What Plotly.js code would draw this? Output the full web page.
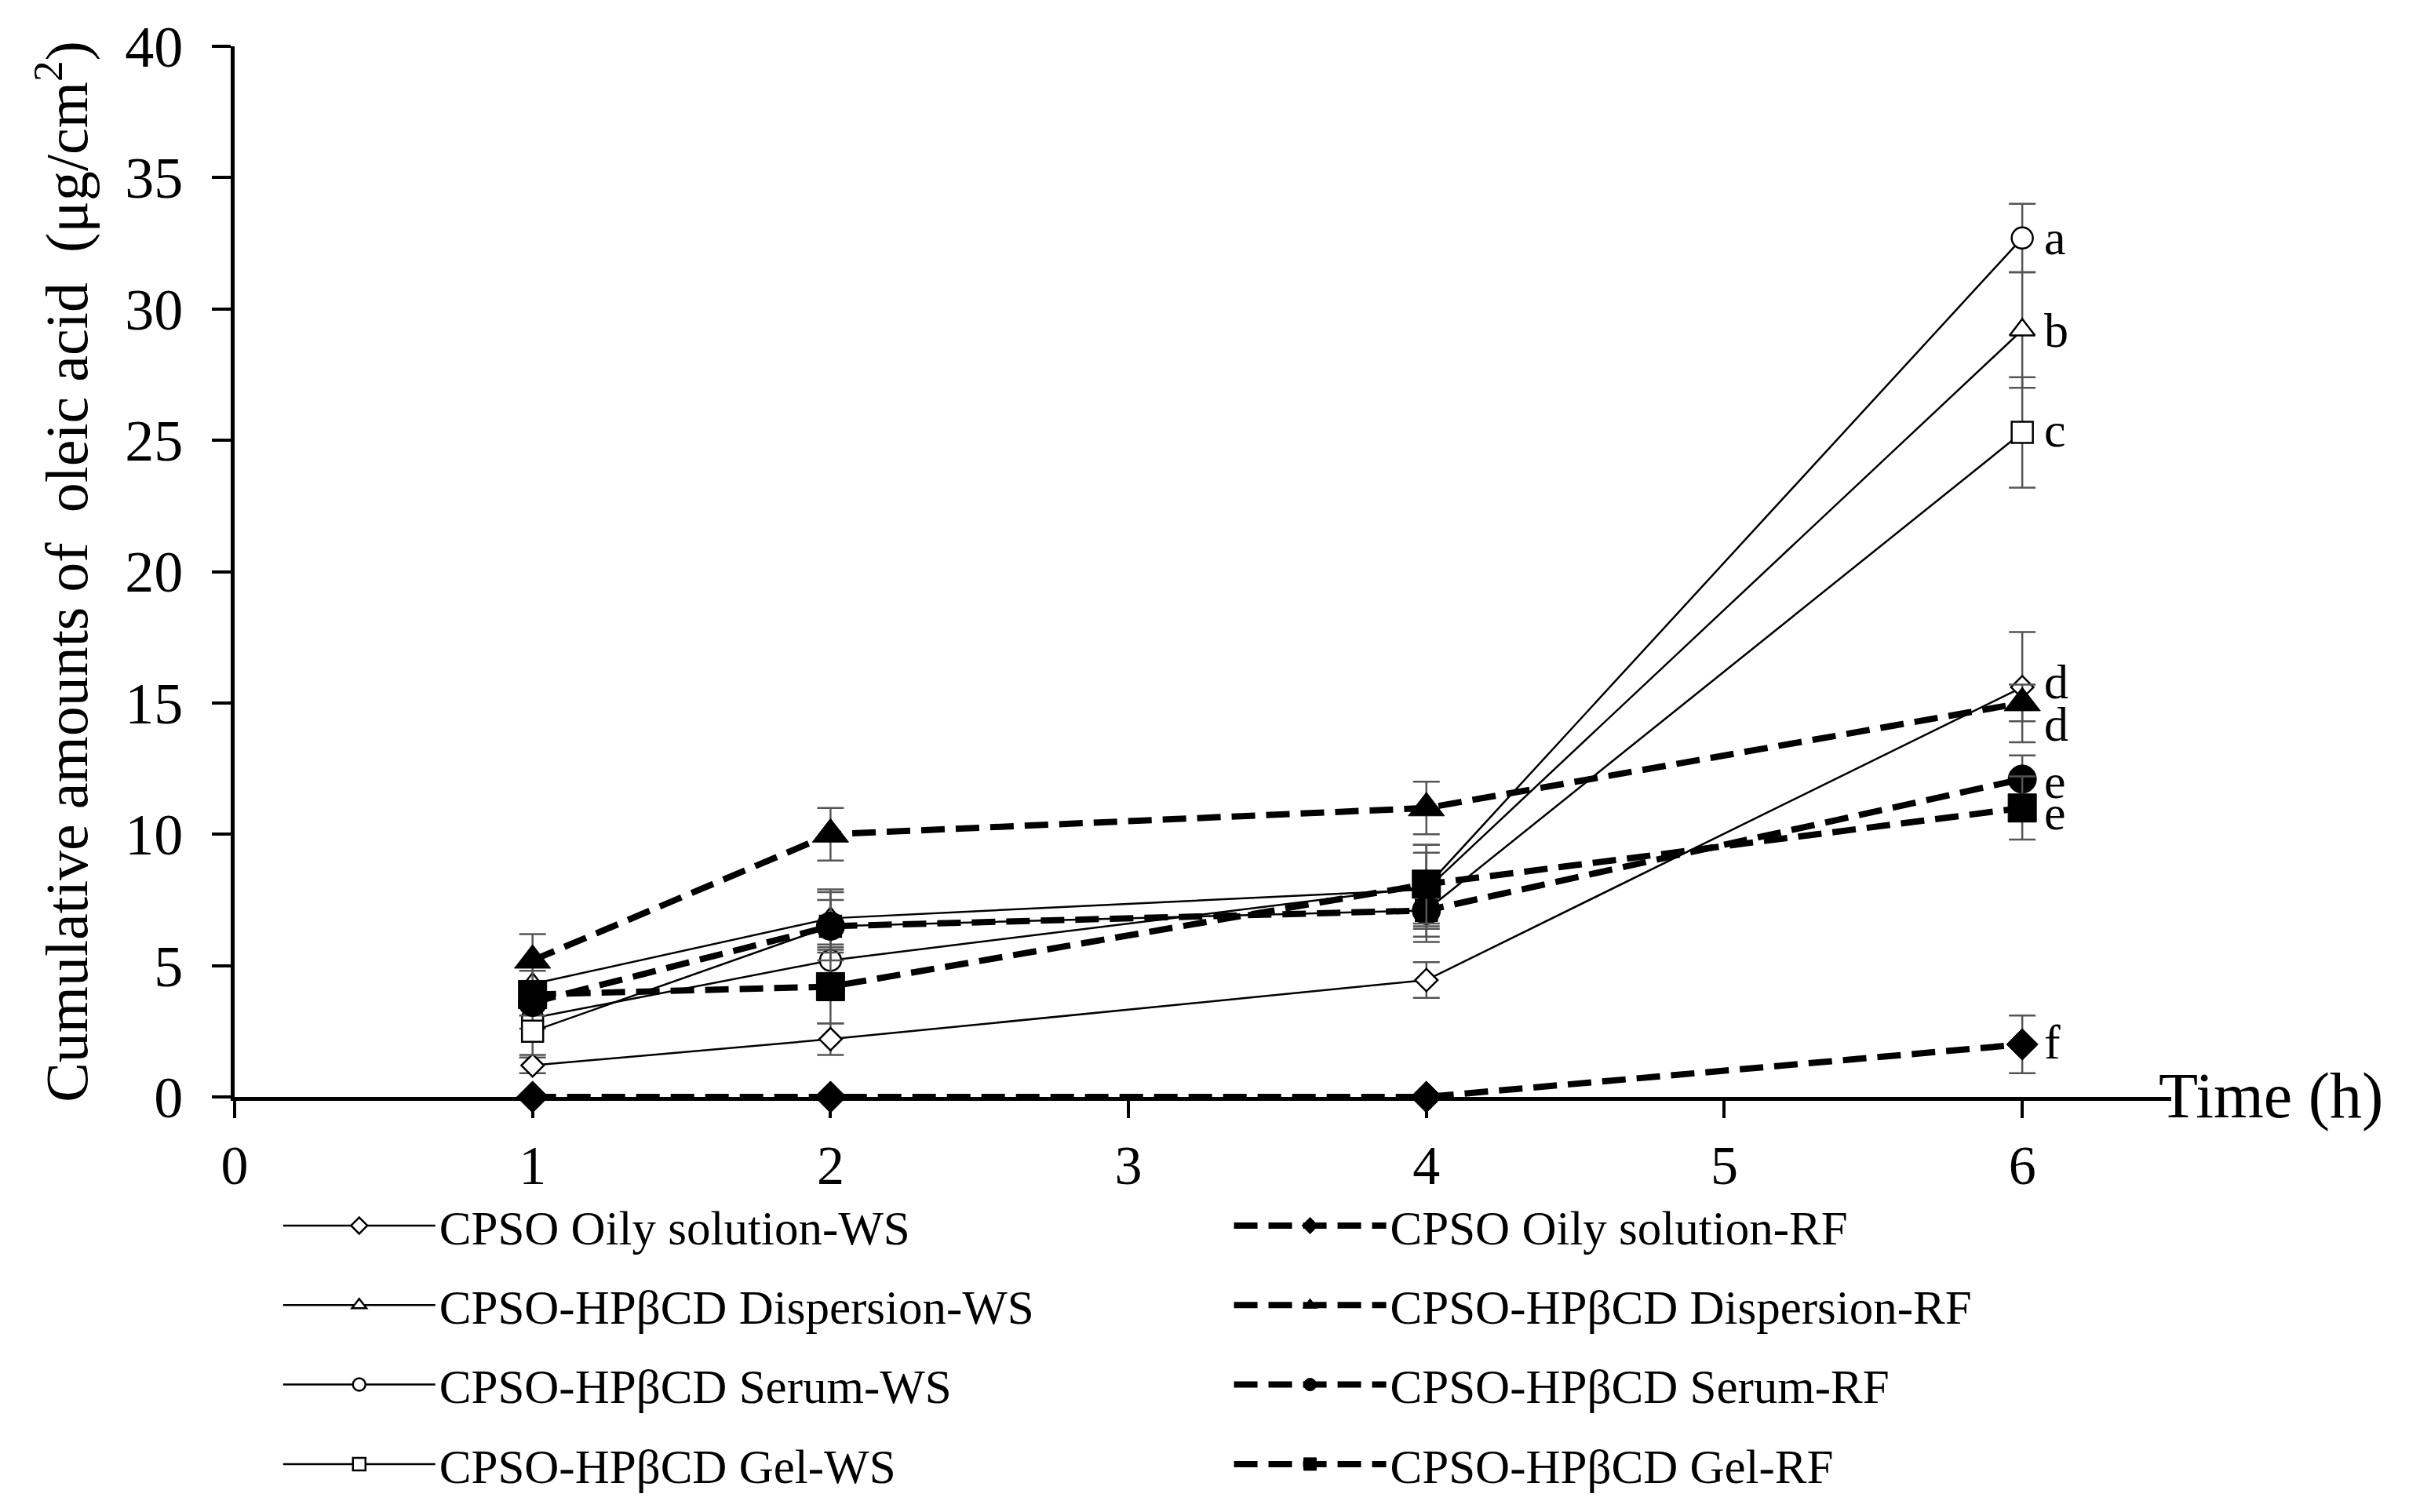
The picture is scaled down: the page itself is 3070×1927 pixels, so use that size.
<!DOCTYPE html>
<html>
<head>
<meta charset="utf-8">
<script src="https://cdn.plot.ly/plotly-3.0.1.min.js"></script>
<style>
  html, body { margin: 0; padding: 0; background: #fff; }
  #chart { width: 3070px; height: 1927px; }
</style>
</head>
<body>
<div id="chart"></div>
<script>
// Sampling times (h)
const TIMES = [1, 2, 4, 6];

// Series names
const NAMES_WS = [
  'CPSO Oily solution-WS',
  'CPSO-HPβCD Dispersion-WS',
  'CPSO-HPβCD Serum-WS',
  'CPSO-HPβCD Gel-WS',
];
const NAMES_RF = [
  'CPSO Oily solution-RF',
  'CPSO-HPβCD Dispersion-RF',
  'CPSO-HPβCD Serum-RF',
  'CPSO-HPβCD Gel-RF',
];

// Cumulative amounts of oleic acid (µg/cm2)
const OILY_WS = [1.2, 2.2, 4.45, 15.6];
const DISP_WS = [4.3, 6.8, 7.9, 29.2];
const SERUM_WS = [3.0, 5.2, 8.0, 32.7];
const GEL_WS = [2.5, 6.5, 7.1, 25.3];

const OILY_RF = [0, 0, 0, 2.0];
const DISP_RF = [5.2, 10.0, 11.0, 15.0];
const SERUM_RF = [3.6, 6.5, 7.1, 12.1];
const GEL_RF = [3.9, 4.2, 8.1, 11.0];

// Standard deviations
const OILY_WS_SD = [0.3, 0.6, 0.68, 2.1];
const DISP_WS_SD = [0.5, 1.1, 1.4, 2.2];
const SERUM_WS_SD = [0.4, 0.6, 1.6, 1.3];
const GEL_WS_SD = [0.9, 1.0, 1.2, 2.1];

const OILY_RF_SD = [0, 0, 0, 1.1];
const DISP_RF_SD = [1.0, 1.0, 1.0, 0.7];
const SERUM_RF_SD = [0.5, 1.3, 1.0, 0.9];
const GEL_RF_SD = [0.4, 1.4, 1.5, 1.2];

// Significance letters at 6 h
const SIG_LETTERS = ['a', 'b', 'c', 'd', 'd', 'e', 'e', 'f'];
const SIG_Y = [32.7, 29.2, 25.4, 15.8, 14.2, 12.0, 10.8, 2.1];

const FONT = 'Liberation Serif, Times New Roman, serif';

const WS_VALUES = [OILY_WS, DISP_WS, SERUM_WS, GEL_WS];
const WS_SD = [OILY_WS_SD, DISP_WS_SD, SERUM_WS_SD, GEL_WS_SD];
const RF_VALUES = [OILY_RF, DISP_RF, SERUM_RF, GEL_RF];
const RF_SD = [OILY_RF_SD, DISP_RF_SD, SERUM_RF_SD, GEL_RF_SD];

const SYMBOLS = ['diamond', 'triangle-up', 'circle', 'square'];
const OPEN_SIZES = [22, 28, 27, 27];
const FILLED_SIZES = [31, 40, 36, 36];

const errorStyle = (sd) => ({
  type: 'data',
  array: sd,
  visible: true,
  color: '#555555',
  thickness: 2.5,
  width: 17,
});

const traces = [];

WS_VALUES.forEach((vals, i) => {
  traces.push({
    x: TIMES,
    y: vals,
    type: 'scatter',
    mode: 'lines+markers',
    name: NAMES_WS[i],
    legend: 'legend',
    legendgroup: 'ws' + i,
    cliponaxis: false,
    line: { color: '#000', width: 2.5 },
    marker: {
      symbol: SYMBOLS[i],
      size: OPEN_SIZES[i],
      color: '#fff',
      line: { color: '#000', width: 2.5 },
    },
    error_y: errorStyle(WS_SD[i]),
  });
});

RF_VALUES.forEach((vals, i) => {
  traces.push({
    x: TIMES,
    y: vals,
    type: 'scatter',
    mode: 'lines+markers',
    name: NAMES_RF[i],
    legend: 'legend2',
    legendgroup: 'rf' + i,
    cliponaxis: false,
    line: { color: '#000', width: 8, dash: '30px,14px' },
    marker: {
      symbol: SYMBOLS[i],
      size: FILLED_SIZES[i],
      color: '#000',
      line: { color: '#000', width: 1 },
    },
    error_y: errorStyle(RF_SD[i]),
  });
});

const annotations = SIG_LETTERS.map((txt, i) => ({
  x: 6,
  y: SIG_Y[i],
  xref: 'x',
  yref: 'y',
  text: txt,
  showarrow: false,
  xanchor: 'left',
  yanchor: 'middle',
  xshift: 26,
  font: { family: FONT, size: 62, color: '#000' },
}));

annotations.push({
  x: 1,
  y: 0,
  xref: 'paper',
  yref: 'paper',
  text: 'Time (h)',
  showarrow: false,
  xanchor: 'left',
  yanchor: 'middle',
  xshift: -18,
  yshift: 2,
  font: { family: FONT, size: 82, color: '#000' },
});

const legendBase = {
  orientation: 'v',
  yanchor: 'top',
  y: -0.088,
  bgcolor: 'rgba(0,0,0,0)',
  borderwidth: 0,
  font: { family: FONT, size: 61, color: '#000' },
  itemwidth: 194,
  tracegroupgap: 19,
  traceorder: 'grouped',
};

const layout = {
  width: 3070,
  height: 1927,
  paper_bgcolor: '#fff',
  plot_bgcolor: '#fff',
  margin: { l: 299, r: 303, t: 59, b: 529 },
  font: { family: FONT, color: '#000' },
  showlegend: true,
  legend: { ...legendBase, x: 0.023 },
  legend2: { ...legendBase, x: 0.514 },
  xaxis: {
    range: [0, 6.5],
    tickvals: [0, 1, 2, 3, 4, 5, 6],
    ticktext: ['0', '1', '2', '3', '4', '5', '6'],
    showline: true,
    linecolor: '#000',
    linewidth: 5,
    ticks: 'outside',
    ticklen: 22,
    tickwidth: 4,
    tickcolor: '#000',
    showgrid: false,
    zeroline: false,
    tickfont: { family: FONT, size: 70, color: '#000' },
  },
  yaxis: {
    range: [0, 40],
    tickvals: [0, 5, 10, 15, 20, 25, 30, 35, 40],
    showline: true,
    linecolor: '#000',
    linewidth: 5,
    ticks: 'outside',
    ticklen: 24,
    tickwidth: 4,
    tickcolor: '#000',
    showgrid: false,
    zeroline: false,
    ticklabelstandoff: 22,
    tickfont: { family: FONT, size: 74, color: '#000' },
    title: {
      text: 'Cumulative amounts of  oleic acid  (μg/cm<sup>2</sup>)',
      font: { family: FONT, size: 76, color: '#000' },
      standoff: 24,
    },
  },
  annotations: annotations,
};

Plotly.newPlot('chart', traces, layout, { displayModeBar: false, responsive: false });
</script>
</body>
</html>
